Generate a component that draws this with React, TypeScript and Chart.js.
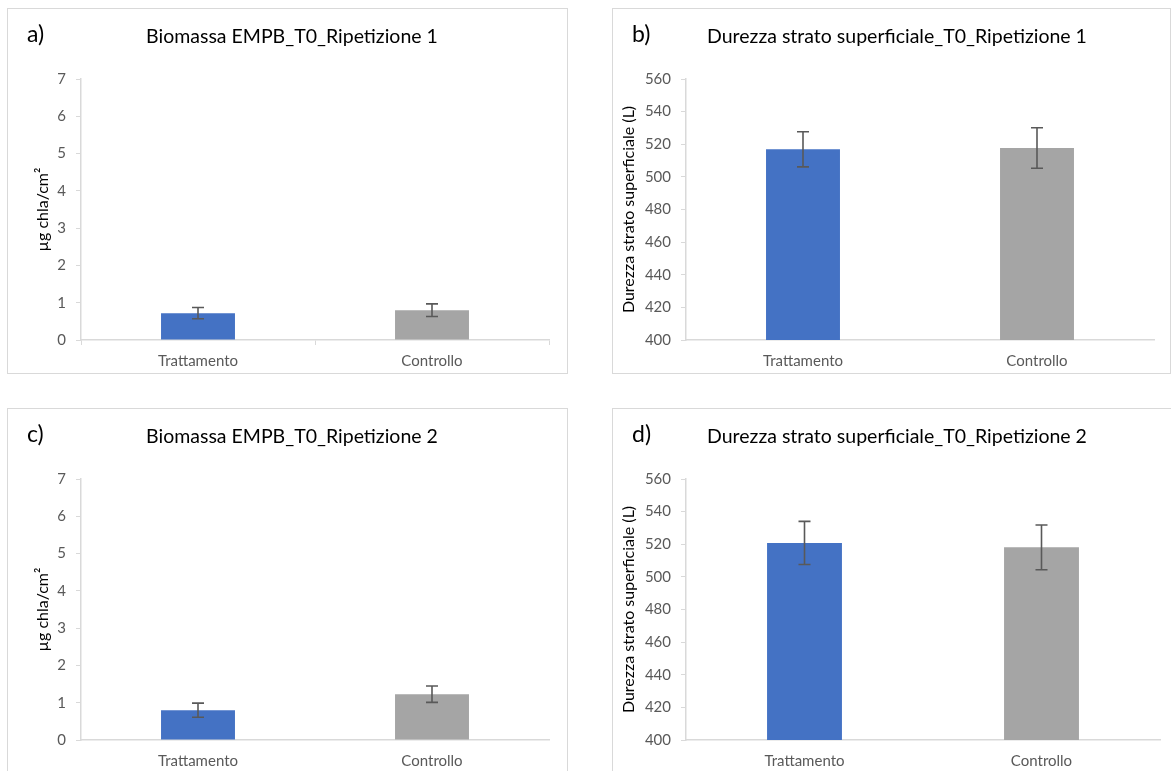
import React, { useEffect, useRef } from "react";
import { Chart, registerables } from "chart.js";

Chart.register(...registerables);

// ---- data ----
const categories = ["Trattamento", "Controllo"];
const biomassRep1 = [0.72, 0.8];
const biomassRep1Err = [0.15, 0.17];
const biomassRep2 = [0.8, 1.23];
const biomassRep2Err = [0.19, 0.22];
const hardnessRep1 = [516.9, 517.7];
const hardnessRep1Err = [10.8, 12.4];
const hardnessRep2 = [520.8, 518.1];
const hardnessRep2Err = [13.2, 13.7];
const biomassAxis = [0, 7, 1]; // min, max, step
const hardnessAxis = [400, 560, 20];

const barColors = ["#4472C4", "#A5A5A5"];
const FONT = "Lato, 'Noto Sans', sans-serif";

type PanelDef = {
  letter: string;
  title: string;
  yTitle: string;
  values: number[];
  errors: number[];
  axis: number[];
  left: number;
  top: number;
  width: number;
  height: number;
  padRight: number;
  xTicks: boolean;
  yTitlePad: number;
};

const panels: PanelDef[] = [
  {
    letter: "a)",
    title: "Biomassa EMPB_T0_Ripetizione 1",
    yTitle: "µg chla/cm²",
    values: biomassRep1,
    errors: biomassRep1Err,
    axis: biomassAxis,
    left: 7, top: 8, width: 561, height: 366, padRight: 18,
    xTicks: true, yTitlePad: 25,
  },
  {
    letter: "b)",
    title: "Durezza strato superficiale_T0_Ripetizione 1",
    yTitle: "Durezza strato superficiale (L)",
    values: hardnessRep1,
    errors: hardnessRep1Err,
    axis: hardnessAxis,
    left: 612, top: 8, width: 559, height: 366, padRight: 16,
    xTicks: false, yTitlePad: 6,
  },
  {
    letter: "c)",
    title: "Biomassa EMPB_T0_Ripetizione 2",
    yTitle: "µg chla/cm²",
    values: biomassRep2,
    errors: biomassRep2Err,
    axis: biomassAxis,
    left: 7, top: 408, width: 561, height: 366, padRight: 18,
    xTicks: false, yTitlePad: 25,
  },
  {
    letter: "d)",
    title: "Durezza strato superficiale_T0_Ripetizione 2",
    yTitle: "Durezza strato superficiale (L)",
    values: hardnessRep2,
    errors: hardnessRep2Err,
    axis: hardnessAxis,
    left: 612, top: 408, width: 565, height: 366, padRight: 16,
    xTicks: false, yTitlePad: 6,
  },
];

const errorBarPlugin = {
  id: "errorBars",
  afterDatasetsDraw(chart: any, _args: any, opts: any) {
    const errs: number[] = opts.errors || [];
    const meta = chart.getDatasetMeta(0);
    const yScale = chart.scales.y;
    const vals: number[] = chart.data.datasets[0].data;
    const ctx = chart.ctx;
    ctx.save();
    ctx.strokeStyle = "#595959";
    ctx.lineWidth = 1.6;
    meta.data.forEach((el: any, i: number) => {
      const x = el.x;
      const yt = yScale.getPixelForValue(vals[i] + errs[i]);
      const yb = yScale.getPixelForValue(vals[i] - errs[i]);
      const cap = 6;
      ctx.beginPath();
      ctx.moveTo(x, yt);
      ctx.lineTo(x, yb);
      ctx.moveTo(x - cap, yt);
      ctx.lineTo(x + cap, yt);
      ctx.moveTo(x - cap, yb);
      ctx.lineTo(x + cap, yb);
      ctx.stroke();
    });
    ctx.restore();
  },
};

const headerPlugin = {
  id: "panelHeader",
  afterDraw(chart: any, _args: any, opts: any) {
    const ctx = chart.ctx;
    ctx.save();
    ctx.fillStyle = "#000000";
    ctx.textBaseline = "alphabetic";
    ctx.textAlign = "left";
    ctx.font = `23px ${FONT}`;
    ctx.fillText(opts.letter, 19, 33);
    ctx.textAlign = "center";
    ctx.font = `19.5px ${FONT}`;
    ctx.fillText(opts.title, 284, 34);
    ctx.restore();
  },
};

function Panel({ def }: { def: PanelDef }) {
  const ref = useRef<HTMLCanvasElement | null>(null);
  const cw = def.width - 2;
  const ch = def.height - 2;

  useEffect(() => {
    if (!ref.current) return;
    const [min, max, step] = def.axis;
    const chart = new Chart(ref.current, {
      type: "bar",
      data: {
        labels: categories,
        datasets: [
          {
            data: def.values,
            backgroundColor: barColors,
            borderWidth: 0,
            categoryPercentage: 1,
            barPercentage: 0.316,
          },
        ],
      },
      options: {
        animation: false,
        responsive: false,
        devicePixelRatio: 1,
        layout: { padding: { left: 0, top: 70, right: def.padRight, bottom: 0 } },
        plugins: {
          legend: { display: false },
          title: { display: false },
          tooltip: { enabled: false },
          errorBars: { errors: def.errors },
          panelHeader: { letter: def.letter, title: def.title },
        } as any,
        scales: {
          x: {
            type: "category",
            offset: true,
            grid: {
              display: true,
              offset: true,
              drawOnChartArea: false,
              drawTicks: def.xTicks,
              tickLength: 5,
              color: "#d9d9d9",
              lineWidth: 1,
            },
            border: { display: true, color: "#d9d9d9", width: 1.5 },
            ticks: {
              color: "#595959",
              font: { family: FONT, size: 15 },
              padding: def.xTicks ? 7 : 12,
              maxRotation: 0,
            },
            afterFit: (s: any) => {
              s.height = 33;
            },
          },
          y: {
            type: "linear",
            min,
            max,
            beginAtZero: false,
            grid: {
              display: true,
              drawOnChartArea: false,
              drawTicks: true,
              tickLength: 5,
              color: "#d9d9d9",
            },
            border: { display: true, color: "#d9d9d9", width: 1.5 },
            ticks: {
              stepSize: step,
              color: "#595959",
              font: { family: FONT, size: 15 },
              padding: 10,
            },
            title: {
              display: true,
              text: def.yTitle,
              color: "#000000",
              font: { family: FONT, size: 16 },
              padding: { top: def.yTitlePad, bottom: 0 },
            },
            afterFit: (s: any) => {
              s.width = 73;
            },
          },
        },
      },
      plugins: [errorBarPlugin, headerPlugin],
    });
    return () => chart.destroy();
  }, [def]);

  return (
    <div
      style={{
        position: "absolute",
        left: def.left,
        top: def.top,
        width: def.width,
        height: def.height,
        border: "1px solid #d9d9d9",
        boxSizing: "border-box",
        background: "#ffffff",
      }}
    >
      <canvas
        ref={ref}
        width={cw}
        height={ch}
        style={{ display: "block", width: cw, height: ch }}
      />
    </div>
  );
}

export default function App() {
  return (
    <div
      style={{
        position: "fixed",
        left: 0,
        top: 0,
        width: 1171,
        height: 771,
        overflow: "hidden",
        background: "#ffffff",
      }}
    >
      {panels.map((p) => (
        <Panel key={p.letter} def={p} />
      ))}
    </div>
  );
}
